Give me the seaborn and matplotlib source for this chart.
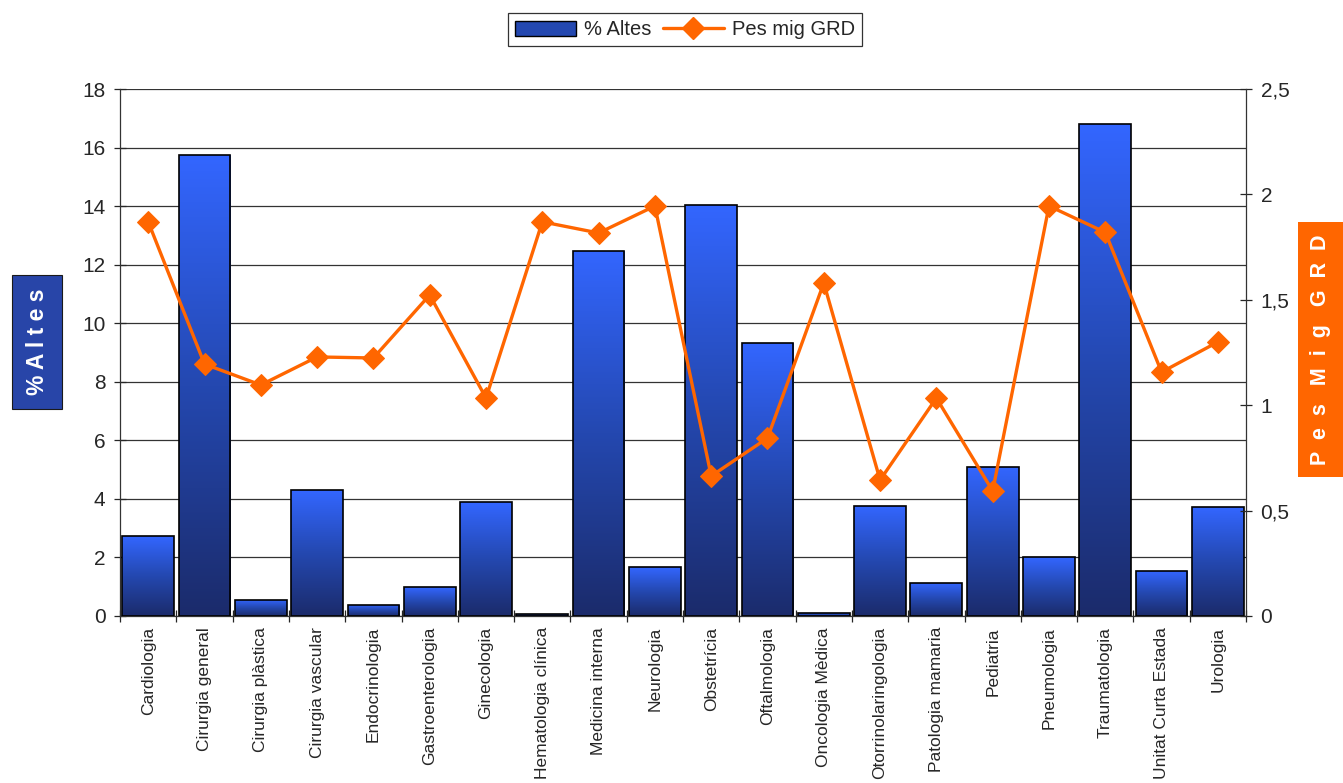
import numpy as np
import pandas as pd
import matplotlib
matplotlib.use('Agg')
import matplotlib.pyplot as plt
import seaborn as sns
from matplotlib.colors import LinearSegmentedColormap
from matplotlib.lines import Line2D
from matplotlib.patches import Patch

serveis = ['Cardiologia', 'Cirurgia general', 'Cirurgia plàstica', 'Cirurgia vascular',
           'Endocrinologia', 'Gastroenterologia', 'Ginecologia', 'Hematologia clínica',
           'Medicina interna', 'Neurologia', 'Obstetrícia', 'Oftalmologia',
           'Oncologia Mèdica', 'Otorrinolaringologia', 'Patologia mamaria', 'Pediatria',
           'Pneumologia', 'Traumatologia', 'Unitat Curta Estada', 'Urologia']
altes = [2.73, 15.74, 0.55, 4.30, 0.38, 0.99, 3.89, 0.07, 12.47, 1.67,
         14.04, 9.32, 0.10, 3.76, 1.13, 5.09, 2.01, 16.80, 1.54, 3.72]
pes_grd = [1.87, 1.195, 1.096, 1.229, 1.224, 1.523, 1.034, 1.87, 1.817, 1.945,
           0.664, 0.844, 1.58, 0.645, 1.034, 0.593, 1.945, 1.82, 1.157, 1.30]

df = pd.DataFrame({'Servei': serveis, 'Altes': altes, 'Pes': pes_grd})

sns.set_style('white')
plt.rcParams['font.family'] = ['Liberation Sans', 'DejaVu Sans']

fig = plt.figure(figsize=(13.43, 7.83), dpi=100)
ax = fig.add_axes([0.0894, 0.2133, 0.8384, 0.673])

sns.barplot(data=df, x='Servei', y='Altes', ax=ax, width=0.92,
            color='#3366FF', edgecolor='black', linewidth=1.2, zorder=2)

# gradient on each bar
cmap = LinearSegmentedColormap.from_list('blau', ['#1B2B6B', '#2448B0', '#3366FF'])
grad = np.linspace(0, 1, 256).reshape(-1, 1)
for p in ax.patches:
    x0, y0 = p.get_x(), p.get_y()
    w, h = p.get_width(), p.get_height()
    if h <= 0:
        continue
    im = ax.imshow(grad, cmap=cmap, aspect='auto', origin='lower',
                   extent=[x0, x0 + w, y0, y0 + h], zorder=2.5)
    im.set_clip_path(p)
    p.set_facecolor('none')
    p.set_zorder(3)

ax.set_xlim(-0.5, len(serveis) - 0.5)
ax.set_ylim(0, 18)
ax.set_yticks(np.arange(0, 19, 2))
ax.yaxis.grid(True, color='#333333', linewidth=0.9)
ax.set_axisbelow(True)
ax.set_xlabel('')
ax.set_ylabel('')
ax.tick_params(axis='y', labelsize=15, direction='inout', length=9, width=0.9, left=True, pad=6)
ax.set_xticks(range(len(serveis)))
ax.set_xticklabels(serveis, rotation=90, fontsize=12.5)
ax.tick_params(axis='x', which='major', length=0, pad=8)
ax.set_xticks(np.arange(-0.5, len(serveis), 1), minor=True)
ax.tick_params(axis='x', which='minor', direction='inout', length=8, width=0.9, bottom=True)
for s in ['left', 'bottom']:
    ax.spines[s].set_color('#333333')
    ax.spines[s].set_linewidth(0.9)
ax.spines['top'].set_visible(False)
ax.spines['right'].set_visible(False)

ax2 = ax.twinx()
sns.lineplot(x=np.arange(len(serveis)), y=df['Pes'], ax=ax2, color='#FF6600',
             linewidth=2.4, marker='D', markersize=11, markeredgecolor='#FF6600', zorder=5)
ax2.set_ylim(0, 2.5)
ax2.set_yticks([0, 0.5, 1, 1.5, 2, 2.5])
ax2.set_yticklabels(['0', '0,5', '1', '1,5', '2', '2,5'])
ax2.set_ylabel('')
ax2.tick_params(axis='y', labelsize=15, direction='inout', length=9, width=0.9, right=True, pad=6)
ax2.spines['right'].set_color('#333333')
ax2.spines['right'].set_linewidth(0.9)
for s in ['top', 'left', 'bottom']:
    ax2.spines[s].set_visible(False)
ax2.grid(False)

# axis title boxes
fig.text(0.0276, 0.563, '% A l t e s', rotation=90, ha='center', va='center',
         color='white', fontsize=16.5, fontweight='bold',
         bbox=dict(boxstyle='square,pad=0.6', facecolor='#2845A8', edgecolor='#1a1a1a', linewidth=0.8))
fig.text(0.983, 0.5536, 'P  e  s   M  i  g   G  R  D', rotation=90, ha='center', va='center',
         color='white', fontsize=15.5, fontweight='bold',
         bbox=dict(boxstyle='square,pad=0.55', facecolor='#FF6600', edgecolor='none'))

handles = [Patch(facecolor='#2448B0', edgecolor='black', label='% Altes'),
           Line2D([0], [0], color='#FF6600', lw=2.4, marker='D', markersize=11, label='Pes mig GRD')]
leg = fig.legend(handles=handles, loc='center', bbox_to_anchor=(0.51, 0.962), ncol=2,
                 fontsize=14.5, frameon=True, fancybox=False, edgecolor='black',
                 handlelength=3, handleheight=0.8, columnspacing=0.6, handletextpad=0.4,
                 borderpad=0.35)
leg.get_frame().set_linewidth(0.9)

fig.savefig('out.png', dpi=100)
